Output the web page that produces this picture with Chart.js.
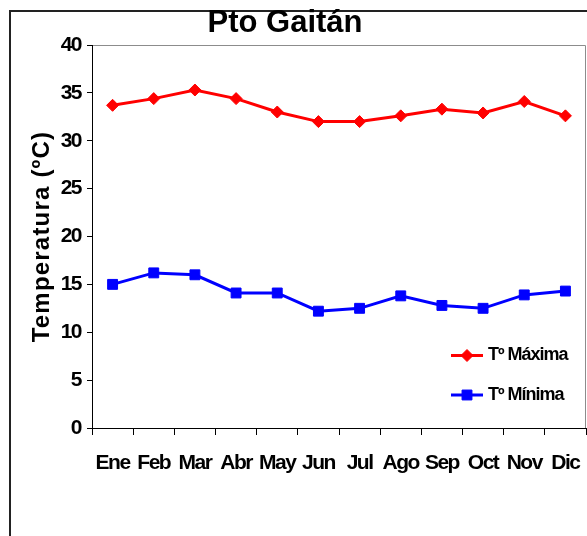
<!DOCTYPE html>
<html>
<head>
<meta charset="utf-8">
<script src="https://cdn.jsdelivr.net/npm/chart.js@4/dist/chart.umd.min.js"></script>
<style>
  html, body { margin: 0; padding: 0; background: #fff; }
  #wrap { position: relative; width: 587px; height: 536px; }
</style>
</head>
<body>
<div id="wrap"><canvas id="c"></canvas></div>
<script>
const months = ['Ene', 'Feb', 'Mar', 'Abr', 'May', 'Jun', 'Jul', 'Ago', 'Sep', 'Oct', 'Nov', 'Dic'];
const tMax = [33.7, 34.4, 35.3, 34.4, 33.0, 32.0, 32.0, 32.6, 33.3, 32.9, 34.1, 32.6];
const tMin = [15.0, 16.2, 16.0, 14.1, 14.1, 12.2, 12.5, 13.8, 12.8, 12.5, 13.9, 14.3];
const seriesNames = ['Tº Máxima', 'Tº Mínima'];
const yMin = 0, yMax = 40, yStep = 5;
const chartTitle = 'Pto Gaitán';
const yTitle = 'Temperatura (ºC)';

const FONT = "'Liberation Sans', Arial, sans-serif";
Chart.defaults.font.family = FONT;
Chart.defaults.color = '#000';

// frame, title, custom legend and text spacing
const decor = {
  id: 'decor',
  beforeDraw(chart) {
    const {ctx, chartArea: a} = chart;
    ctx.save();
    ctx.strokeStyle = '#222';
    ctx.lineWidth = 2;
    ctx.beginPath();
    ctx.moveTo(10, chart.height);
    ctx.lineTo(10, 11);
    ctx.lineTo(chart.width, 11);
    ctx.stroke();

    ctx.strokeStyle = '#8c8c8c';
    ctx.lineWidth = 1;
    ctx.beginPath();
    ctx.moveTo(a.left, a.top + 0.5);
    ctx.lineTo(a.right - 0.5, a.top + 0.5);
    ctx.lineTo(a.right - 0.5, a.bottom);
    ctx.stroke();

    ctx.fillStyle = '#000';
    ctx.font = 'bold 31px ' + FONT;
    ctx.textAlign = 'center';
    ctx.textBaseline = 'alphabetic';
    ctx.fillText(chartTitle, 285, 32);
    ctx.restore();
    ctx.letterSpacing = '1.2px';
  },
  afterDatasetsDraw(chart) {
    chart.ctx.letterSpacing = '-1.5px';
  },
  afterDraw(chart) {
    const ctx = chart.ctx;
    const rows = [355.5, 395];
    ctx.save();
    chart.data.datasets.forEach((ds, i) => {
      const y = rows[i];
      ctx.strokeStyle = ds.borderColor;
      ctx.fillStyle = ds.backgroundColor;
      ctx.lineWidth = 3;
      ctx.beginPath();
      ctx.moveTo(451, y);
      ctx.lineTo(483, y);
      ctx.stroke();
      ctx.lineWidth = 1;
      Chart.helpers.drawPoint(ctx, {pointStyle: ds.pointStyle, radius: ds.pointRadius, borderWidth: 1, rotation: 0}, 467, y);
      ctx.letterSpacing = '-1px';
      ctx.fillStyle = '#000';
      ctx.font = 'bold 18px ' + FONT;
      ctx.textAlign = 'left';
      ctx.textBaseline = 'middle';
      ctx.fillText(ds.label, 488, y);
    });
    ctx.restore();
    ctx.letterSpacing = '0px';
  }
};

new Chart(document.getElementById('c'), {
  type: 'line',
  data: {
    labels: months,
    datasets: [{
      label: seriesNames[0],
      data: tMax,
      borderColor: '#ff0000',
      backgroundColor: '#ff0000',
      borderWidth: 3,
      pointStyle: 'rectRot',
      pointRadius: 6,
      pointBorderWidth: 1
    }, {
      label: seriesNames[1],
      data: tMin,
      borderColor: '#0000ff',
      backgroundColor: '#0000ff',
      borderWidth: 3,
      pointStyle: 'rect',
      pointRadius: 7,
      pointBorderWidth: 1
    }]
  },
  options: {
    responsive: true,
    maintainAspectRatio: false,
    animation: false,
    devicePixelRatio: 1,
    layout: {autoPadding: false, padding: {left: 10, right: 1, top: 45, bottom: 0}},
    plugins: {
      legend: {display: false},
      title: {display: false},
      tooltip: {enabled: false}
    },
    scales: {
      x: {
        offset: true,
        grid: {drawOnChartArea: false, offset: true, color: '#000', tickLength: 7},
        border: {color: '#000'},
        ticks: {
          font: {size: 21, weight: 'bold'},
          padding: 16,
          autoSkip: false,
          maxRotation: 0,
          minRotation: 0,
          z: 1
        },
        afterFit(s) {
          s.height = 108;
          s.paddingLeft = 0;
          s.paddingRight = 0;
        }
      },
      y: {
        min: yMin,
        max: yMax,
        grid: {drawOnChartArea: false, color: '#000', tickLength: 5},
        border: {color: '#000'},
        ticks: {stepSize: yStep, font: {size: 21, weight: 'bold'}, padding: 6, z: 1},
        title: {
          display: true,
          text: yTitle,
          font: {size: 24, weight: 'bold'},
          padding: {top: 18, bottom: 0}
        },
        afterFit(s) { s.width = 82; }
      }
    }
  },
  plugins: [decor]
});
</script>
</body>
</html>
